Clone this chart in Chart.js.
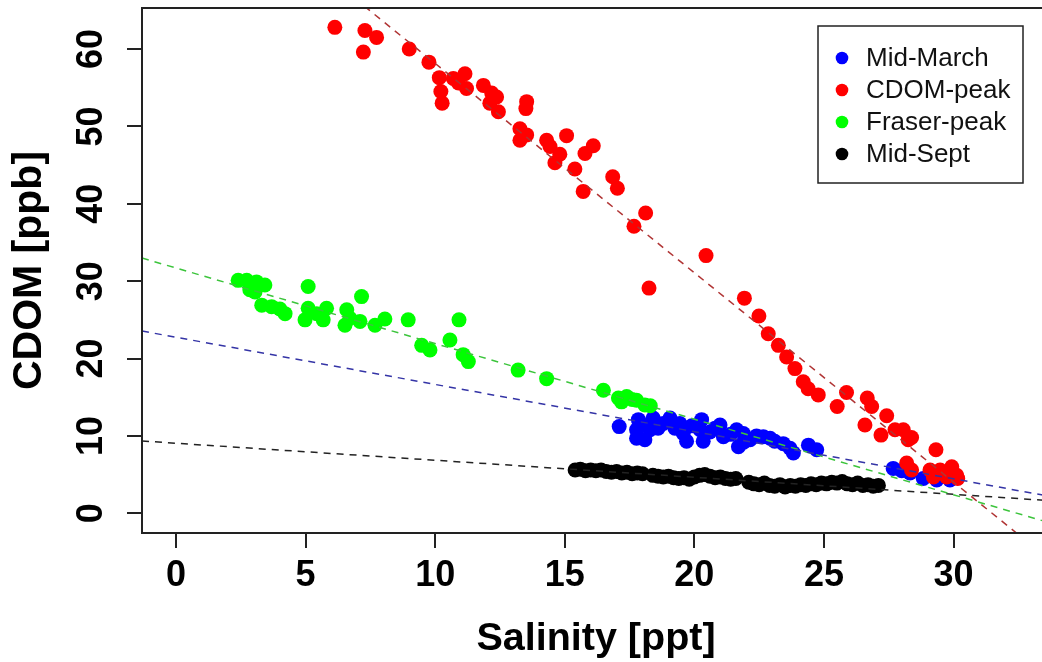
<!DOCTYPE html>
<html>
<head>
<meta charset="utf-8">
<script src="https://cdn.jsdelivr.net/npm/chart.js@4.4.0/dist/chart.umd.min.js"></script>
<style>
  html, body { margin: 0; padding: 0; background: #fff; overflow: hidden; }
  #wrap { position: relative; width: 1060px; height: 662px; }
</style>
</head>
<body>
<div id="wrap"><canvas id="chart"></canvas></div>
<script>
// salinity [ppt], CDOM [ppb] pairs
const seriesNames = ["Mid-March", "CDOM-peak", "Fraser-peak", "Mid-Sept"]
const pointColors = ["#0000ff", "#ff0000", "#00ff00", "#000000"]
const lineColors = ["#3434a6", "#b03434", "#3cc43c", "#222222"]

const midMarch = [[17.1,11.2],[17.84,12.1],[17.77,10.8],[18.09,9.5],[18.41,12.3],[18.29,10.8],[18.8,11.6],[19.06,12.3],[19.25,11.0],[19.57,10.3],[19.7,9.3],[19.44,11.6],[20.28,12.1],[20.22,10.8],[20.34,9.3],[20.99,11.4],[21.12,9.9],[21.63,10.8],[21.7,8.6],[21.89,10.3],[22.15,9.5],[22.66,9.9],[22.92,9.7],[23.43,9.0],[23.69,8.4],[23.82,7.8],[24.4,8.8],[24.72,8.2],[18.6,11.0],[19.9,11.3],[20.6,10.5],[21.4,10.2],[22.4,10.0],[23.1,9.3],[18.0,11.4],[20.8,11.0],[21.9,9.2],[17.77,9.7],[18.48,11.8],[27.67,5.8],[28.32,5.2],[28.83,4.5],[29.35,4.3],[29.86,4.3],[28.0,5.5]]

const cdomPeak = [[6.13,62.8],[7.29,62.4],[7.74,61.5],[7.23,59.6],[9.0,60.0],[9.76,58.3],[10.16,56.3],[10.22,54.5],[10.27,53.0],[10.7,56.2],[10.9,55.6],[11.15,56.8],[11.21,54.9],[11.86,55.3],[12.18,54.3],[12.37,53.8],[12.11,53.0],[12.44,51.9],[13.53,53.2],[13.5,52.3],[13.27,49.7],[13.53,48.9],[13.27,48.2],[14.3,48.2],[14.43,47.4],[15.07,48.8],[14.81,46.4],[14.62,45.3],[15.39,44.5],[16.1,47.5],[15.78,46.5],[16.85,43.5],[17.03,42.0],[15.71,41.6],[18.12,38.8],[17.67,37.1],[20.45,33.3],[18.25,29.1],[21.93,27.8],[22.49,25.5],[22.85,23.2],[23.24,21.7],[23.56,20.2],[23.88,18.7],[24.2,17.0],[24.39,16.1],[24.78,15.3],[25.87,15.6],[25.51,13.8],[26.67,14.9],[26.84,13.8],[26.58,11.4],[27.42,12.6],[27.2,10.1],[27.74,10.8],[28.06,10.8],[28.25,9.5],[28.38,9.8],[29.32,8.2],[28.19,6.5],[28.38,5.6],[29.09,5.6],[29.48,5.6],[29.93,6.0],[30.12,4.9],[29.73,4.7],[29.22,4.7],[30.16,4.5]]

const fraserPeak = [[2.40,30.1],[2.73,30.1],[3.11,29.9],[3.43,29.5],[2.85,28.9],[3.05,28.6],[3.31,26.9],[3.69,26.7],[4.01,26.4],[4.21,25.8],[5.1,29.3],[5.1,26.5],[4.98,25.0],[5.43,25.8],[5.81,26.5],[5.68,25.0],[6.59,26.3],[6.52,24.3],[6.71,25.2],[7.1,24.8],[7.16,28.0],[7.68,24.3],[8.06,25.1],[8.96,25.0],[9.48,21.7],[9.8,21.1],[10.57,22.4],[10.92,25.0],[11.08,20.5],[11.28,19.6],[13.2,18.5],[14.3,17.4],[16.49,15.9],[17.07,14.9],[17.39,15.1],[17.77,14.6],[18.09,14.0],[17.19,14.4],[17.6,14.7],[18.3,13.9]]

const midSept = [[15.4,5.6],[15.6,5.7],[15.8,5.5],[16.0,5.6],[16.2,5.5],[16.4,5.6],[16.6,5.4],[16.8,5.3],[17.0,5.4],[17.2,5.2],[17.4,5.3],[17.6,5.1],[17.8,5.2],[18.0,5.1],[18.4,4.9],[18.6,4.8],[18.8,4.7],[19.0,4.8],[19.2,4.6],[19.4,4.5],[19.6,4.6],[19.8,4.4],[20.0,4.7],[20.2,4.9],[20.4,5.0],[20.6,4.8],[20.8,4.6],[21.0,4.7],[21.2,4.5],[21.4,4.4],[21.6,4.5],[22.1,4.0],[22.3,3.8],[22.5,3.7],[22.7,3.9],[22.9,3.6],[23.1,3.5],[23.3,3.7],[23.5,3.4],[23.7,3.6],[23.9,3.5],[24.1,3.7],[24.3,3.6],[24.5,3.8],[24.7,3.7],[24.9,3.9],[25.1,3.8],[25.3,4.0],[25.5,3.9],[25.7,4.1],[25.9,3.8],[26.1,3.7],[26.3,3.9],[26.5,3.6],[26.7,3.7],[26.9,3.5],[27.1,3.6]]

// dashed linear fits, same order as seriesNames
const fitIntercept = [22.75, 85.2, 31.7, 9.05]
const fitSlope = [-0.61, -2.706, -0.977, -0.22]

const xTicks = [0, 5, 10, 15, 20, 25, 30]
const yTicks = [0, 10, 20, 30, 40, 50, 60]
const xRange = [-1.31, 33.72]
const yRange = [-2.55, 65.3]

const FONT = "'Liberation Sans', Arial, sans-serif"
const allSeries = [midMarch, cdomPeak, fraserPeak, midSept]

const pointSets = allSeries.map((s, i) => ({
    label: seriesNames[i],
    data: s.map(p => ({x: p[0], y: p[1]})),
    backgroundColor: pointColors[i],
    borderWidth: 0,
    pointRadius: 7.5,
    pointHoverRadius: 7.5,
    order: 4 - i + 1
}))

const fitSets = fitIntercept.map((b, i) => ({
    label: seriesNames[i] + " fit",
    data: xRange.map(x => ({x: x, y: b + fitSlope[i] * x})),
    showLine: true,
    borderColor: lineColors[i],
    borderWidth: 1.5,
    borderDash: [7, 6],
    pointRadius: 0,
    fill: false,
    order: 0
}))

const frameAndLegend = {
    id: "frameAndLegend",
    afterDatasetsDraw(chart) {
        const {ctx, chartArea: a} = chart
        ctx.save()
        ctx.strokeStyle = "#222"
        ctx.lineWidth = 2
        ctx.strokeRect(a.left, a.top, a.right - a.left, a.bottom - a.top)

        // legend box, top right
        ctx.fillStyle = "#fff"
        ctx.fillRect(818, 26, 205, 157)
        ctx.lineWidth = 1.5
        ctx.strokeRect(818, 26, 205, 157)
        ctx.font = "26px " + FONT
        ctx.textBaseline = "middle"
        seriesNames.forEach((name, i) => {
            const y = 58 + i * 32
            ctx.fillStyle = pointColors[i]
            ctx.beginPath()
            ctx.arc(842, y, 6.3, 0, Math.PI * 2)
            ctx.fill()
            ctx.fillStyle = "#111"
            ctx.fillText(name, 866, y + 1)
        })
        ctx.restore()
    }
}

new Chart(document.getElementById("chart"), {
    type: "scatter",
    data: { datasets: fitSets.concat(pointSets) },
    options: {
        responsive: true,
        maintainAspectRatio: false,
        animation: false,
        layout: { padding: { top: 8, right: 10, left: 0, bottom: 0 } },
        plugins: { legend: { display: false }, tooltip: { enabled: false } },
        scales: {
            x: {
                type: "linear",
                min: xRange[0],
                max: xRange[1],
                afterBuildTicks: s => { s.ticks = xTicks.map(v => ({value: v})) },
                afterFit: s => { s.height = 129; s.paddingLeft = 0; s.paddingRight = 0 },
                border: { display: false },
                grid: { drawOnChartArea: false, drawTicks: true, tickLength: 15, color: "#222", lineWidth: 2 },
                ticks: { color: "#000", padding: 6, autoSkip: false, maxRotation: 0,
                    font: { family: FONT, size: 36, weight: "bold" } },
                title: { display: true, text: "Salinity [ppt]", color: "#000",
                    font: { family: FONT, size: 39.5, weight: "bold", lineHeight: 1 },
                    padding: { top: 0, bottom: 3 } }
            },
            y: {
                type: "linear",
                min: yRange[0],
                max: yRange[1],
                afterBuildTicks: s => { s.ticks = yTicks.map(v => ({value: v})) },
                afterFit: s => { s.width = 142; s.paddingTop = 0; s.paddingBottom = 0 },
                border: { display: false },
                grid: { drawOnChartArea: false, drawTicks: true, tickLength: 15, color: "#222", lineWidth: 2 },
                ticks: { color: "#000", padding: 15, autoSkip: false, minRotation: 90, maxRotation: 90,
                    crossAlign: "center", font: { family: FONT, size: 36, weight: "bold" } },
                title: { display: true, text: "CDOM [ppb]", color: "#000",
                    font: { family: FONT, size: 41, weight: "bold", lineHeight: 1 },
                    padding: { top: 9, bottom: 0 } }
            }
        }
    },
    plugins: [frameAndLegend]
})
</script>
</body>
</html>
